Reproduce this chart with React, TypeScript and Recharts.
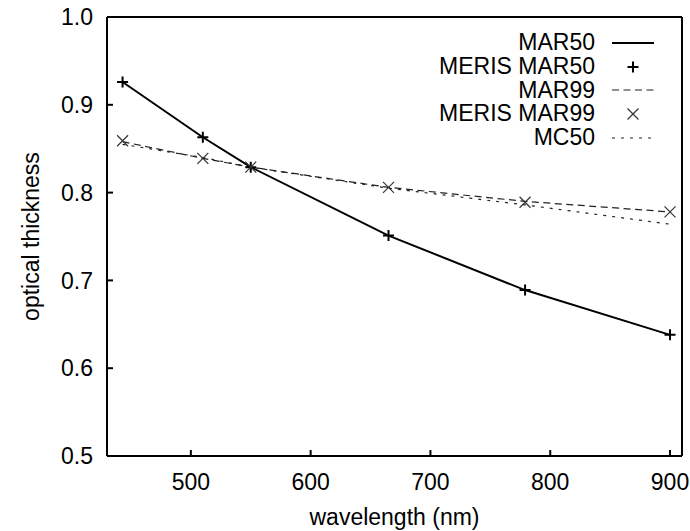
import React from "react";
import {
  ComposedChart,
  Line,
  XAxis,
  YAxis,
  Legend,
} from "recharts";

const wavelengths = [443, 510, 550, 665, 779, 900];
const mar50 = [0.926, 0.863, 0.829, 0.751, 0.689, 0.638];
const merisMar50 = [0.926, 0.863, 0.829, 0.751, 0.689, 0.638];
const mar99 = [0.858, 0.839, 0.829, 0.806, 0.79, 0.778];
const merisMar99 = [0.859, 0.839, 0.829, 0.806, 0.789, 0.778];
const mc50 = [0.855, 0.84, 0.829, 0.805, 0.786, 0.764];

const xTicks = [500, 600, 700, 800, 900];
const yTicks = [0.5, 0.6, 0.7, 0.8, 0.9, 1.0];

const FONT = "'Liberation Sans', Arial, sans-serif";

const data = wavelengths.map((wl, i) => ({
  wl,
  mar50: mar50[i],
  merisMar50: merisMar50[i],
  mar99: mar99[i],
  merisMar99: merisMar99[i],
  mc50: mc50[i],
}));

const PlusDot = (props: any) => {
  const { cx, cy, index } = props;
  if (cx == null || cy == null) return <g key={`p${index}`} />;
  const s = 5.5;
  return (
    <path
      key={`p${index}`}
      d={`M${cx - s},${cy}H${cx + s}M${cx},${cy - s}V${cy + s}`}
      stroke="#000"
      strokeWidth={2}
      fill="none"
    />
  );
};

const CrossDot = (props: any) => {
  const { cx, cy, index } = props;
  if (cx == null || cy == null) return <g key={`x${index}`} />;
  const s = 5.5;
  return (
    <path
      key={`x${index}`}
      d={`M${cx - s},${cy - s}L${cx + s},${cy + s}M${cx - s},${cy + s}L${cx + s},${cy - s}`}
      stroke="#333"
      strokeWidth={1.2}
      fill="none"
    />
  );
};

const legendRows = [
  { name: "MAR50", kind: "solid" },
  { name: "MERIS MAR50", kind: "plus" },
  { name: "MAR99", kind: "dash" },
  { name: "MERIS MAR99", kind: "cross" },
  { name: "MC50", kind: "dot" },
];

const renderLegend = () => (
  <div style={{ fontFamily: FONT, fontSize: 23, color: "#000" }}>
    {legendRows.map((r) => (
      <div
        key={r.name}
        style={{ display: "flex", alignItems: "center", height: 23.75 }}
      >
        <span style={{ width: 195, textAlign: "right", lineHeight: "23.75px" }}>
          {r.name}
        </span>
        <svg width={42} height={20} style={{ marginLeft: 17 }}>
          {r.kind === "solid" && (
            <line x1={0} x2={42} y1={10} y2={10} stroke="#000" strokeWidth={2} />
          )}
          {r.kind === "dash" && (
            <line x1={0} x2={42} y1={10} y2={10} stroke="#222" strokeWidth={1.2} strokeDasharray="7 4.5" />
          )}
          {r.kind === "dot" && (
            <line x1={0} x2={42} y1={10} y2={10} stroke="#222" strokeWidth={1.2} strokeDasharray="3 6" />
          )}
          {r.kind === "plus" && (
            <path d="M15.5,10H26.5M21,4.5V15.5" stroke="#000" strokeWidth={2} />
          )}
          {r.kind === "cross" && (
            <path d="M15.5,4.5L26.5,15.5M15.5,15.5L26.5,4.5" stroke="#333" strokeWidth={1.2} />
          )}
        </svg>
      </div>
    ))}
  </div>
);

const YLabel = (props: any) => {
  const { viewBox } = props;
  const x = viewBox.x + 31;
  const y = viewBox.y + viewBox.height / 2;
  return (
    <text
      x={x}
      y={y}
      transform={`rotate(-90, ${x}, ${y})`}
      textAnchor="middle"
      dominantBaseline="central"
      fontFamily={FONT}
      fontSize={23}
      fill="#000"
    >
      optical thickness
    </text>
  );
};

const tickStyle = { fill: "#000", fontSize: 23, fontFamily: FONT };
const axisStroke = { stroke: "#000", strokeWidth: 2 };

export default function App() {
  return (
    <div style={{ position: "absolute", left: 0, top: 0, background: "#fff" }}>
      <ComposedChart
        width={690}
        height={531}
        data={data}
        margin={{ top: 0, right: 0, bottom: 0, left: 0 }}
      >
        <XAxis
          dataKey="wl"
          type="number"
          domain={[430, 910]}
          ticks={xTicks}
          allowDataOverflow
          height={75}
          tickSize={-6}
          tickMargin={24}
          tick={tickStyle}
          axisLine={axisStroke}
          tickLine={axisStroke}
          label={{
            value: "wavelength (nm)",
            position: "insideBottom",
            offset: 6,
            style: { fill: "#000", fontSize: 23, fontFamily: FONT },
          }}
        />
        <XAxis
          xAxisId="top"
          orientation="top"
          dataKey="wl"
          type="number"
          domain={[430, 910]}
          ticks={xTicks}
          allowDataOverflow
          height={17}
          tickSize={-6}
          tick={false}
          axisLine={axisStroke}
          tickLine={axisStroke}
        />
        <YAxis
          type="number"
          domain={[0.5, 1.0]}
          ticks={yTicks}
          allowDataOverflow
          width={107}
          tickSize={-6}
          tickMargin={20}
          tick={tickStyle}
          tickFormatter={(v: number) => v.toFixed(1)}
          axisLine={axisStroke}
          tickLine={axisStroke}
          label={<YLabel />}
        />
        <YAxis
          yAxisId="right"
          orientation="right"
          type="number"
          domain={[0.5, 1.0]}
          ticks={yTicks}
          allowDataOverflow
          width={8}
          tickSize={-6}
          tick={false}
          axisLine={axisStroke}
          tickLine={axisStroke}
        />
        <Legend
          layout="horizontal"
          verticalAlign="middle"
          align="center"
          content={renderLegend}
          wrapperStyle={{ top: 31, left: 400, width: 260, height: 120 }}
        />
        <Line
          dataKey="mc50"
          stroke="#222"
          strokeWidth={1.2}
          strokeDasharray="3 6"
          dot={false}
          isAnimationActive={false}
        />
        <Line
          dataKey="mar99"
          stroke="#222"
          strokeWidth={1.2}
          strokeDasharray="7 4.5"
          dot={false}
          isAnimationActive={false}
        />
        <Line
          dataKey="mar50"
          stroke="#000"
          strokeWidth={2}
          dot={false}
          isAnimationActive={false}
        />
        <Line
          dataKey="merisMar50"
          stroke="none"
          dot={PlusDot}
          activeDot={false}
          isAnimationActive={false}
        />
        <Line
          dataKey="merisMar99"
          stroke="none"
          dot={CrossDot}
          activeDot={false}
          isAnimationActive={false}
        />
      </ComposedChart>
    </div>
  );
}
